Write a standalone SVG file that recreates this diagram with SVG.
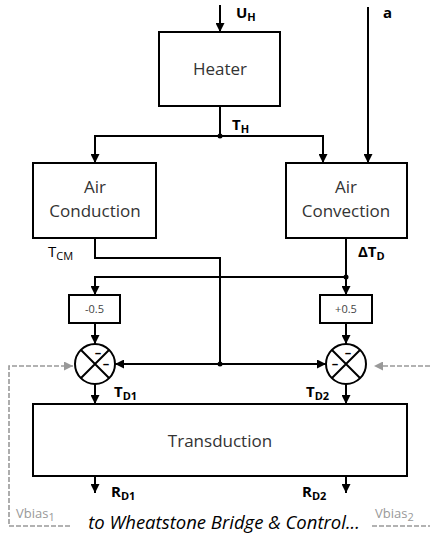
<svg xmlns="http://www.w3.org/2000/svg" width="430" height="533" viewBox="0 0 430 533">
<style>
.box{fill:#fff;stroke:#000;stroke-width:2}
.ln{fill:none;stroke:#000;stroke-width:2}
.dash{fill:none;stroke:#999;stroke-width:1.6;stroke-dasharray:5 2}
.lbl{font-family:"Open Sans",sans-serif;font-size:17px;fill:#333;text-anchor:middle}
.sig{font-family:"Open Sans",sans-serif;font-size:15px;font-weight:bold;fill:#000}
.sub{font-size:11px}
.gain{font-family:"Open Sans",sans-serif;font-size:11px;fill:#444;text-anchor:middle}
.vb{font-family:"Open Sans",sans-serif;font-size:13px;fill:#999}
.minus{font-family:"Open Sans",sans-serif;font-size:13px;font-weight:bold;fill:#000;text-anchor:middle}
</style>
<defs>
<marker id="ah" markerUnits="userSpaceOnUse" viewBox="0 0 10 10" refX="10" refY="5" markerWidth="9" markerHeight="9" orient="auto"><path d="M0,0 L10,5 L0,10 z" fill="#000"/></marker>
<marker id="ahg" markerUnits="userSpaceOnUse" viewBox="0 0 10 10" refX="10" refY="5" markerWidth="9" markerHeight="9" orient="auto"><path d="M0,0 L10,5 L0,10 z" fill="#999"/></marker>
</defs>
<g id="connectors">
<path class="ln" d="M220,5 V32" marker-end="url(#ah)"/>
<path class="ln" d="M368,7 V163" marker-end="url(#ah)"/>
<path class="ln" d="M220,106 V136 H95 V163" marker-end="url(#ah)"/>
<path class="ln" d="M220,136 H323 V163" marker-end="url(#ah)"/>
<circle cx="220" cy="136" r="2.5" fill="#000"/>
<path class="ln" d="M95,238 V258 H220 V364"/>
<path class="ln" d="M346,238 V295" marker-end="url(#ah)"/>
<path class="ln" d="M346,277 H95 V295" marker-end="url(#ah)"/>
<circle cx="346" cy="277" r="2.5" fill="#000"/>
<path class="ln" d="M95,323 V344" marker-end="url(#ah)"/>
<path class="ln" d="M346,323 V344" marker-end="url(#ah)"/>
<path class="ln" d="M220,364 H115" marker-end="url(#ah)"/>
<path class="ln" d="M220,364 H326" marker-end="url(#ah)"/>
<circle cx="220" cy="364" r="2.5" fill="#000"/>
<path class="ln" d="M95,384 V404" marker-end="url(#ah)"/>
<path class="ln" d="M346,384 V404" marker-end="url(#ah)"/>
<path class="ln" d="M95,476 V493" marker-end="url(#ah)"/>
<path class="ln" d="M346,476 V493" marker-end="url(#ah)"/>
<path class="dash" d="M70,526 H9 V366 H73" marker-end="url(#ahg)"/>
<path class="dash" d="M430,366 H374" marker-end="url(#ahg)"/>
<path class="dash" d="M372,526 H430"/>
</g>
<g id="heater">
<rect class="box" x="159" y="32" width="121" height="74"/>
<text class="lbl" x="220" y="75">Heater</text>
</g>
<g id="air-conduction">
<rect class="box" x="33" y="163" width="123" height="75"/>
<text class="lbl" x="95" y="193">Air</text>
<text class="lbl" x="95" y="217">Conduction</text>
</g>
<g id="air-convection">
<rect class="box" x="286" y="163" width="121" height="75"/>
<text class="lbl" x="346" y="193">Air</text>
<text class="lbl" x="346" y="217">Convection</text>
</g>
<g id="gain-left">
<rect class="box" x="69" y="295" width="51" height="28"/>
<text class="gain" x="94.5" y="313">-0.5</text>
</g>
<g id="gain-right">
<rect class="box" x="320" y="295" width="52" height="28"/>
<text class="gain" x="346" y="313">+0.5</text>
</g>
<g id="sum-left">
<circle cx="95" cy="364" r="20" fill="#fff" stroke="#000" stroke-width="2"/>
<path class="ln" d="M81,350 L109,378 M109,350 L81,378"/>
<text class="minus" x="98" y="357">–</text>
<text class="minus" x="106" y="368">–</text>
</g>
<g id="sum-right">
<circle cx="346" cy="364" r="20" fill="#fff" stroke="#000" stroke-width="2"/>
<path class="ln" d="M332,350 L360,378 M360,350 L332,378"/>
<text class="minus" x="348" y="357">–</text>
<text class="minus" x="335" y="368">–</text>
</g>
<g id="transduction">
<rect class="box" x="33" y="404" width="374" height="72"/>
<text class="lbl" x="220" y="447">Transduction</text>
</g>
<g id="labels">
<text class="sig" x="236" y="18">U<tspan class="sub" dy="3">H</tspan></text>
<text class="sig" x="383" y="18">a</text>
<text class="sig" x="232" y="130">T<tspan class="sub" dy="3">H</tspan></text>
<text class="sig" x="48" y="257" style="font-weight:normal">T<tspan class="sub" dy="3">CM</tspan></text>
<text class="sig" x="358" y="257">ΔT<tspan class="sub" dy="3">D</tspan></text>
<text class="sig" x="114" y="397">T<tspan class="sub" dy="3">D1</tspan></text>
<text class="sig" x="306" y="397">T<tspan class="sub" dy="3">D2</tspan></text>
<text class="sig" x="111" y="497">R<tspan class="sub" dy="3">D1</tspan></text>
<text class="sig" x="302" y="497">R<tspan class="sub" dy="3">D2</tspan></text>
<text class="vb" x="16" y="518">Vbias<tspan class="sub" dy="3">1</tspan></text>
<text class="vb" x="375" y="518">Vbias<tspan class="sub" dy="3">2</tspan></text>
<text x="224" y="529" font-family="Open Sans, sans-serif" font-size="18.5" font-style="italic" fill="#000" text-anchor="middle">to Wheatstone Bridge &amp; Control...</text>
</g>
</svg>
